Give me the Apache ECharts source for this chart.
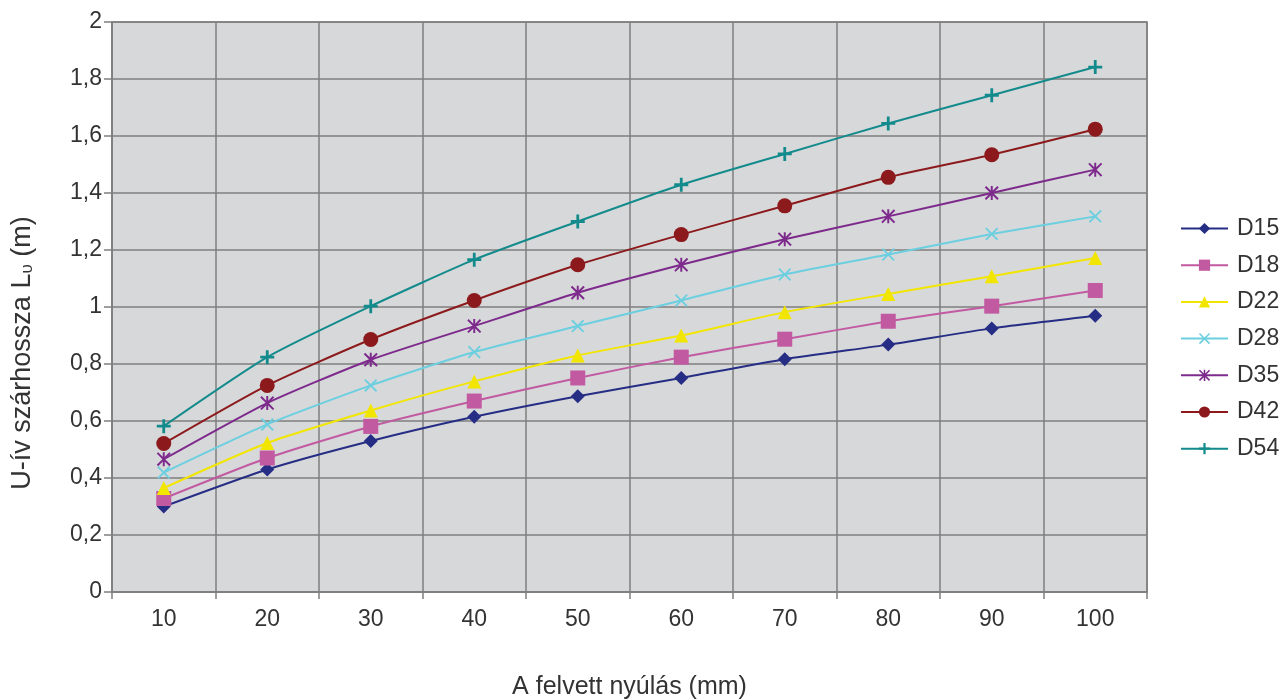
<!DOCTYPE html>
<html><head><meta charset="utf-8">
<script src="https://cdn.jsdelivr.net/npm/echarts@6/dist/echarts.min.js"></script>
<style>html,body{margin:0;padding:0;background:#fff}#c{width:1285px;height:700px}</style>
</head><body><div id="c"></div>
<script>
const categories = ['10','20','30','40','50','60','70','80','90','100'];
const yTicks = [0,0.2,0.4,0.6,0.8,1,1.2,1.4,1.6,1.8,2];
const D15 = [0.30,0.43,0.53,0.615,0.687,0.751,0.817,0.868,0.925,0.969];
const D18 = [0.328,0.470,0.581,0.670,0.751,0.824,0.887,0.950,1.003,1.058];
const D22 = [0.365,0.523,0.637,0.739,0.830,0.900,0.982,1.046,1.108,1.172];
const D28 = [0.419,0.588,0.725,0.842,0.933,1.023,1.114,1.184,1.256,1.318];
const D35 = [0.466,0.663,0.815,0.933,1.050,1.148,1.238,1.318,1.400,1.482];
const D42 = [0.521,0.725,0.886,1.023,1.148,1.254,1.355,1.455,1.534,1.624];
const D54 = [0.582,0.824,1.003,1.166,1.300,1.429,1.537,1.644,1.743,1.842];
const seriesNames = ['D15','D18','D22','D28','D35','D42','D54'];

const colors = ['#262d84','#c25aa2','#f2e600','#6ccfe0','#7d2a8c','#8c1a1c','#138b8c'];
const plus = 'path://M4,0h2v10h-2zM0,4h10v2h-10z';
const xMark = 'path://M1,0L5,4L9,0L10,1L6,5L10,9L9,10L5,6L1,10L0,9L4,5L0,1Z';
const star = 'path://M1,0L5,4L9,0L10,1L6,5L10,9L9,10L5,6L1,10L0,9L4,5L0,1ZM4.3,0h1.4v10h-1.4z';
const symbols = ['diamond','rect','triangle',xMark,star,'circle',plus];
const sizes = [14,15,14,13,14,15,14];
const data = [D15,D18,D22,D28,D35,D42,D54];

const font = 'Liberation Sans';
const chart = echarts.init(document.getElementById('c'));
chart.setOption({
  animation:false,
  textStyle:{fontFamily:font},
  grid:{left:112,right:138,top:22,bottom:108,outerBoundsMode:'none',containLabel:false,show:true,backgroundColor:'#d7d8da',borderColor:'#7f7f7f',borderWidth:1.5},
  legend:{
    orient:'vertical',left:1180,top:217,padding:0,itemWidth:47,itemHeight:14,itemGap:13.7,
    textStyle:{fontSize:23,lineHeight:23,color:'#333',fontFamily:font,padding:[0,0,0,4]},
    data:seriesNames
  },
  xAxis:{
    type:'category',data:categories,boundaryGap:true,
    name:'A felvett nyúlás (mm)',nameLocation:'middle',nameGap:83,
    nameTextStyle:{fontSize:25,color:'#333',fontFamily:font},
    axisLine:{lineStyle:{color:'#7f7f7f',width:1.5}},
    axisTick:{show:true,length:7,lineStyle:{color:'#7f7f7f',width:1.5}},
    axisLabel:{fontSize:23,color:'#333',margin:16,fontFamily:font},
    splitLine:{show:true,lineStyle:{color:'#7f7f7f',width:1.5}}
  },
  yAxis:{
    type:'value',min:0,max:2,interval:0.2,
    name:'{a|U-ív szárhossza L}{s|υ}{a| (m)}',nameLocation:'middle',nameGap:76,
    nameTextStyle:{padding:[0,92,0,0],rich:{a:{fontSize:27,color:'#333',fontFamily:font},s:{fontSize:17,color:'#333',fontFamily:font,padding:[10,0,0,0]}}},
    axisLine:{show:true,lineStyle:{color:'#7f7f7f',width:1.5}},
    axisTick:{show:true,length:8,lineStyle:{color:'#7f7f7f',width:1.5}},
    axisLabel:{fontSize:23,color:'#333',margin:10,fontFamily:font,formatter:v=>{const t=yTicks.find(x=>Math.abs(x-v)<1e-6);return String(+((t!==undefined?t:v).toFixed(1))).replace('.',',');}},
    splitLine:{show:true,lineStyle:{color:'#7f7f7f',width:1.5}}
  },
  series:seriesNames.map((n,i)=>({
    name:n,type:'line',data:data[i],smooth:0.2,
    symbol:symbols[i],symbolSize:sizes[i],showSymbol:true,
    itemStyle:{color:colors[i]},
    lineStyle:{color:colors[i],width:2}
  }))
});
</script></body></html>
